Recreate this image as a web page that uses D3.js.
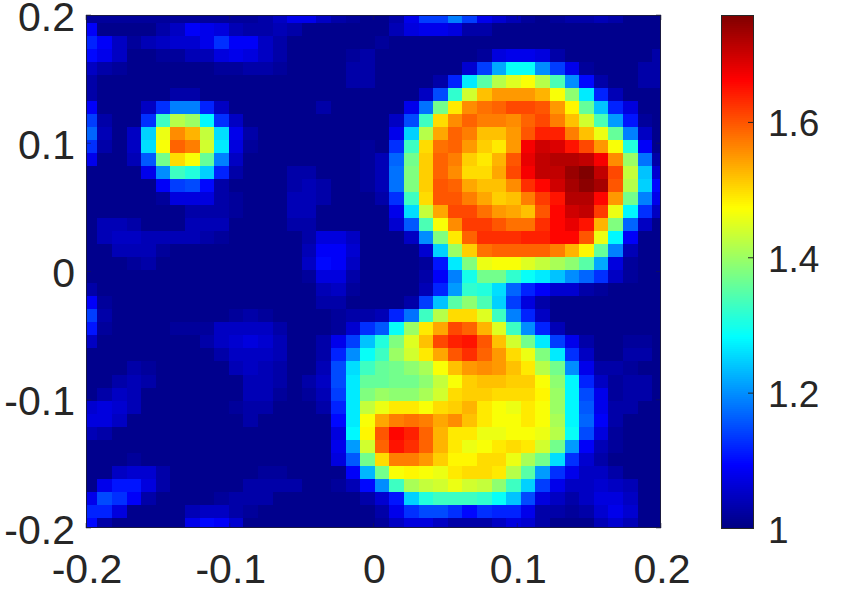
<!DOCTYPE html>
<html><head><meta charset="utf-8">
<script src="https://cdn.jsdelivr.net/npm/d3@7/dist/d3.min.js"></script>
<style>html,body{margin:0;padding:0;background:#fff}svg{display:block}
text{font-family:"Liberation Sans",Arial,sans-serif;font-size:41px;fill:#262626}
text.cb{font-size:37px}</style>
</head><body><svg id="c" width="842" height="590"></svg>
<script>
const xTicks=[-0.2,-0.1,0,0.1,0.2];
const yTicks=[-0.2,-0.1,0,0.1,0.2];
const cTicks=[1,1.2,1.4,1.6];
const colorRange=[1,1.7587];
const gridStart=-0.2022, gridStep=0.010157; // left/bottom edge of grid (data units), cell size
// values x100, rows from top (y=+0.2) to bottom (y=-0.2), columns left to right
const heat=[
[102,102,102,102,102,102,102,102,102,102,102,102,103,105,108,108,105,103,102,101,101,103,108,114,114,119,114,108,106,104,102,101,102,103,103,104,103,101,101,101],
[109,101,101,101,101,103,105,109,108,107,104,103,103,104,103,101,101,101,101,101,101,104,107,108,108,107,103,103,101,101,101,101,101,101,101,101,101,101,101,101],
[112,109,105,102,104,105,106,106,108,113,109,109,105,103,101,101,101,101,101,101,102,101,101,101,101,101,101,101,101,101,101,101,101,101,101,101,101,101,101,101],
[110,108,105,101,101,102,102,104,104,107,108,107,105,103,101,101,101,101,102,103,101,101,101,101,101,101,101,102,107,108,108,107,103,101,101,101,101,101,101,103],
[105,103,102,101,101,101,101,101,101,102,102,103,103,102,101,101,101,101,103,103,101,101,101,101,101,101,106,114,122,129,129,120,114,108,102,101,101,101,103,103],
[103,101,101,101,101,101,101,101,101,101,101,101,101,101,101,101,101,101,103,103,101,101,101,101,103,112,127,135,142,145,147,142,134,120,110,103,101,101,103,103],
[103,101,101,101,101,101,103,103,101,101,101,101,101,101,101,101,101,101,101,101,101,101,101,105,115,132,144,152,155,155,155,153,147,139,127,112,104,101,101,101],
[109,101,101,101,105,113,119,119,112,105,101,101,101,101,101,101,103,101,101,101,101,101,108,118,137,149,156,158,159,161,161,160,155,148,136,124,112,107,101,101],
[114,103,101,101,113,133,142,140,128,113,105,101,101,101,101,101,101,101,101,101,101,105,115,133,150,156,159,157,157,156,159,161,157,152,144,134,121,111,102,101],
[117,104,101,105,125,146,156,153,143,126,108,103,101,101,101,101,101,101,101,101,101,108,125,142,154,159,157,152,152,155,160,164,164,157,152,146,136,119,105,101],
[113,103,101,105,126,147,159,157,144,127,107,102,101,101,101,101,101,101,101,102,101,113,133,150,158,159,155,151,149,155,167,170,169,165,161,155,147,131,109,101],
[108,101,101,104,116,137,150,147,136,119,105,101,101,101,101,101,101,101,101,102,104,117,137,151,159,157,151,149,153,160,168,171,172,172,171,167,156,140,118,103],
[101,101,101,101,108,120,133,131,125,112,103,101,101,101,103,103,101,101,101,102,104,118,138,151,159,156,150,150,154,161,167,171,171,174,176,171,161,143,124,106],
[101,101,101,101,101,109,114,115,110,103,101,101,101,101,103,104,103,101,101,102,104,118,138,151,160,159,154,152,152,156,163,166,170,173,175,173,160,142,125,110],
[101,101,101,101,101,102,107,107,107,103,102,101,101,101,104,104,103,101,101,101,103,113,133,150,160,160,157,154,151,152,157,162,165,172,172,166,155,137,119,108],
[101,101,101,101,101,101,101,103,103,103,102,101,101,101,104,104,101,101,101,101,101,108,126,143,154,161,161,158,155,154,152,160,166,170,171,162,146,128,113,105],
[101,104,104,103,101,101,101,104,104,104,101,101,101,101,103,103,101,101,101,101,101,106,116,134,147,156,162,162,160,158,158,163,166,168,165,153,138,117,105,101],
[101,104,105,105,104,104,104,104,103,102,101,101,101,101,101,103,107,107,105,101,101,101,105,120,138,149,159,163,163,163,164,164,166,166,160,146,128,109,101,101],
[101,101,104,104,104,102,101,101,101,101,101,101,101,101,101,104,109,109,106,101,101,101,101,106,125,140,151,158,159,159,159,159,157,153,148,136,119,104,101,101],
[101,101,101,102,103,101,101,101,101,101,101,101,101,101,101,105,110,109,105,101,101,101,101,102,111,127,138,146,147,147,145,143,141,139,135,122,107,102,101,101],
[101,101,101,101,101,101,101,101,101,101,101,101,101,101,101,102,107,107,103,101,101,101,101,103,109,119,130,137,137,132,129,127,124,120,117,113,105,102,101,101],
[103,101,101,101,101,101,101,101,101,101,101,101,101,101,101,101,104,105,102,101,101,101,101,104,112,121,132,131,126,117,112,109,106,106,103,102,101,101,101,101],
[109,102,101,101,101,101,101,101,101,101,101,101,101,101,101,101,103,103,101,101,101,101,103,114,124,135,139,134,125,114,107,103,101,101,101,101,101,101,101,101],
[114,103,101,101,101,101,101,101,101,101,102,103,102,101,101,101,101,102,103,103,104,112,118,133,142,150,150,145,133,119,112,105,101,101,101,101,101,101,101,101],
[111,102,101,101,101,101,102,102,102,105,105,105,105,103,101,101,101,102,106,113,116,129,140,149,154,161,159,153,145,133,120,112,104,101,101,101,101,101,101,101],
[105,101,101,101,101,101,101,101,103,105,106,107,106,104,101,101,103,108,114,124,131,138,145,152,161,164,165,160,152,144,137,127,114,108,103,101,101,102,102,101],
[101,101,101,101,101,101,101,101,101,103,105,105,105,104,101,101,103,112,120,129,133,140,144,149,154,160,163,159,155,150,146,138,127,113,105,101,101,103,103,101],
[101,101,101,103,102,101,101,101,101,101,104,105,104,103,101,101,104,115,126,133,136,137,139,141,147,152,155,156,155,152,149,142,137,120,108,103,103,102,101,101],
[101,101,103,104,103,101,101,101,101,101,101,104,104,103,101,103,105,115,127,136,136,137,137,139,143,147,151,152,152,151,151,147,139,128,112,105,102,103,103,101],
[101,103,105,104,101,101,101,101,101,101,101,104,104,102,101,102,104,114,127,138,140,139,139,141,144,150,151,151,150,150,150,148,140,128,115,108,102,103,103,101],
[106,107,106,104,101,101,101,101,101,101,102,103,103,101,101,101,103,112,127,143,146,149,149,147,150,151,153,149,147,146,149,147,140,128,116,108,103,103,101,101],
[107,107,105,101,101,101,101,101,101,101,101,103,101,101,101,101,101,110,127,147,154,157,158,157,154,156,152,149,147,147,149,147,141,128,117,109,103,101,101,101],
[104,103,101,101,101,101,101,101,101,101,101,101,101,101,101,101,101,107,128,148,160,166,164,159,153,149,149,146,146,147,147,146,142,129,115,107,102,101,101,101],
[101,101,101,101,101,101,101,101,101,101,101,101,101,101,101,101,101,108,121,144,159,165,163,159,153,149,146,147,149,150,149,144,137,121,109,104,102,101,101,101],
[101,101,101,102,101,101,101,101,101,101,101,101,101,101,101,101,101,107,116,137,150,157,157,155,151,148,148,150,150,146,141,137,126,113,106,103,101,101,101,101],
[101,101,105,106,106,103,101,101,101,101,101,101,102,102,101,101,101,101,109,123,137,147,148,147,146,149,150,150,149,142,135,121,113,108,105,105,103,101,101,101],
[101,108,111,111,107,103,101,101,101,101,101,103,103,103,103,101,101,102,104,110,120,133,141,143,144,146,144,143,139,133,125,114,108,105,105,106,105,104,101,101],
[108,115,113,109,103,101,101,101,101,102,103,103,103,101,101,101,101,101,101,103,106,111,125,131,133,133,133,132,129,124,115,107,105,103,105,107,107,105,101,101],
[112,112,107,101,101,101,101,104,105,105,103,102,101,101,101,101,101,101,101,101,103,108,113,115,115,113,110,113,112,112,108,103,103,102,103,106,108,106,101,101],
[110,103,101,101,101,101,101,108,110,109,106,101,101,101,101,101,101,101,101,101,102,105,107,107,105,103,103,103,105,107,106,103,101,101,101,104,106,104,101,101]
];
const W=842,H=590,L=86,R=661,T=15,B=528,CL=721,CR=754;
const x=d3.scaleLinear().domain([-0.2,0.2]).range([L,R]);
const y=d3.scaleLinear().domain([-0.2,0.2]).range([B,T]);
const cy=d3.scaleLinear().domain(colorRange).range([B+0.5,T]);
const jetStops=[0,1/8,3/8,5/8,7/8,1];
const jetNorm=d3.scaleLinear().domain(colorRange).range([0,1]).clamp(true);
const jetRamp=d3.scaleLinear().domain(jetStops).range(["#000080","#0000ff","#00ffff","#ffff00","#ff0000","#800000"]).interpolate(d3.interpolateRgb);
const jet=v=>jetRamp(jetNorm(v));
const svg=d3.select("#c");
svg.append("defs").append("clipPath").attr("id","plot").append("rect")
  .attr("x",L).attr("y",T).attr("width",R-L).attr("height",B-T);
const cells=heat.flatMap((row,j)=>row.map((v,i)=>({i,j,v:v/100})));
const nRows=heat.length;
svg.append("g").attr("clip-path","url(#plot)").attr("shape-rendering","crispEdges")
  .selectAll("rect").data(cells).join("rect")
  .attr("x",d=>x(gridStart+d.i*gridStep))
  .attr("width",d=>x(gridStart+(d.i+1)*gridStep)-x(gridStart+d.i*gridStep)+0.5)
  .attr("y",d=>y(gridStart+(nRows-d.j)*gridStep))
  .attr("height",d=>y(gridStart+(nRows-d.j-1)*gridStep)-y(gridStart+(nRows-d.j)*gridStep)+0.5)
  .attr("fill",d=>jet(d.v));
const fmt=d=>d===0?"0":String(d);
const frame=svg.append("g").attr("fill","none").attr("stroke","#1a1a40").attr("stroke-width",1);
frame.append("rect").attr("x",L+.5).attr("y",T+.5).attr("width",R-L-1).attr("height",B-T-1);
const tickLen=5;
xTicks.forEach(t=>{
  frame.append("line").attr("x1",x(t)).attr("x2",x(t)).attr("y1",B).attr("y2",B-tickLen).attr("opacity",.5);
  frame.append("line").attr("x1",x(t)).attr("x2",x(t)).attr("y1",T).attr("y2",T+tickLen).attr("opacity",.5);
  svg.append("text").attr("x",x(t)+1).attr("y",B+55).attr("text-anchor","middle").text(fmt(t));
});
yTicks.forEach(t=>{
  frame.append("line").attr("y1",y(t)).attr("y2",y(t)).attr("x1",L).attr("x2",L+tickLen).attr("opacity",.5);
  frame.append("line").attr("y1",y(t)).attr("y2",y(t)).attr("x1",R).attr("x2",R-tickLen).attr("opacity",.5);
  svg.append("text").attr("x",L-11).attr("y",y(t)+15.5).attr("text-anchor","end").text(fmt(t));
});
// colorbar
const nLevels=256;
const lh=(colorRange[1]-colorRange[0])/nLevels;
const levels=d3.range(nLevels).map(i=>colorRange[0]+(i+.5)*lh);
svg.append("g").attr("shape-rendering","crispEdges").selectAll("rect").data(levels).join("rect")
  .attr("x",CL).attr("width",CR-CL)
  .attr("y",d=>cy(d+lh/2)).attr("height",d=>cy(d-lh/2)-cy(d+lh/2)+.6)
  .attr("fill",d=>jet(d));
const cb=svg.append("g").attr("fill","none").attr("stroke","#262626");
cb.append("rect").attr("x",CL+.5).attr("y",T+.5).attr("width",CR-CL-1).attr("height",B-T);
cTicks.forEach(t=>{
  cb.append("line").attr("x1",CR).attr("x2",CR-6).attr("y1",cy(t)).attr("y2",cy(t));
  svg.append("text").attr("class","cb").attr("x",CR+14).attr("y",cy(t)+14).text(String(t));
});
</script></body></html>
